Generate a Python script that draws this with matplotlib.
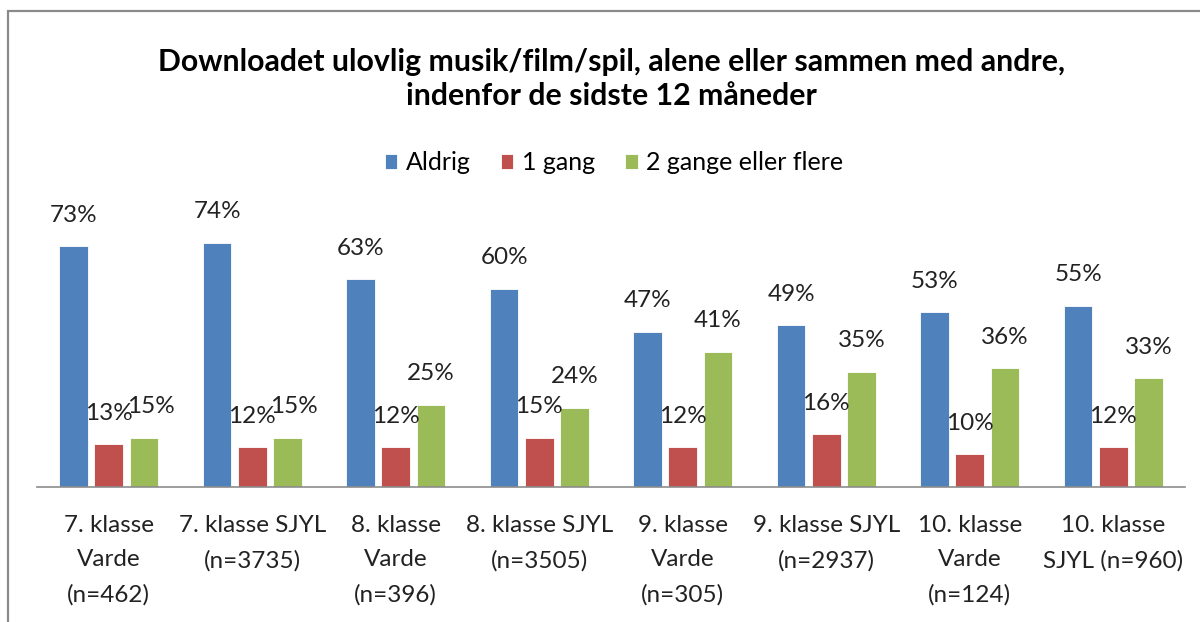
import numpy as np
import matplotlib
matplotlib.use("Agg")
import matplotlib.pyplot as plt
from matplotlib.patches import Rectangle

plt.rcParams['font.family'] = ['Lato', 'DejaVu Sans']

groups = ["7. klasse\nVarde\n(n=462)", "7. klasse SJYL\n(n=3735)",
          "8. klasse\nVarde\n(n=396)", "8. klasse SJYL\n(n=3505)",
          "9. klasse\nVarde\n(n=305)", "9. klasse SJYL\n(n=2937)",
          "10. klasse\nVarde\n(n=124)", "10. klasse\nSJYL (n=960)"]
series = ["Aldrig", "1 gang", "2 gange eller flere"]
aldrig = [73, 74, 63, 60, 47, 49, 53, 55]
en_gang = [13, 12, 12, 15, 12, 16, 10, 12]
flere = [15, 15, 25, 24, 41, 35, 36, 33]
colors = ["#4F81BD", "#C0504D", "#9BBB59"]

title = ("Downloadet ulovlig musik/film/spil, alene eller sammen med andre,\n"
         "indenfor de sidste 12 måneder")

fig = plt.figure(figsize=(12, 6.22), dpi=100)
W, H = 1200, 622
ax = fig.add_axes([37 / W, (H - 487) / H, 1148 / W, 264 / H])

x = np.arange(len(groups))
width = 0.2
step = 0.245
for i, (vals, name, col) in enumerate(zip([aldrig, en_gang, flere], series, colors)):
    bars = ax.bar(x + (i - 1) * step, vals, width, color=col, label=name,
                  edgecolor="white", linewidth=0.6, zorder=2)
    for j, (b, v) in enumerate(zip(bars, vals)):
        # push the green label aside a little when it sits level with the red one
        dx = 7 if (i == 2 and abs(v - en_gang[j]) < 5) else 0
        ax.annotate(f"{v}%", (b.get_x() + b.get_width() / 2, v),
                    xytext=(dx, 31), textcoords="offset pixels",
                    ha="center", va="center", fontsize=17.5, color="#222222",
                    annotation_clip=False)

ax.set_xlim(-0.5, len(groups) - 0.5)
ax.set_ylim(0, 80)
ax.set_yticks([])
ax.set_xticks(x)
ax.set_xticklabels(groups, fontsize=17.5, linespacing=1.8, color="#222222")
ax.tick_params(axis="x", length=0, pad=20)
for s in ["top", "right", "left"]:
    ax.spines[s].set_visible(False)
ax.spines["bottom"].set_color("#8c8c8c")
ax.spines["bottom"].set_linewidth(1.2)

fig.text(611 / W, 1 - 79 / H, title, ha="center", va="center",
         fontsize=21.8, fontweight="bold", linespacing=1.3)

fig.legend(loc="center", bbox_to_anchor=(614 / W, 1 - 163 / H), ncol=3,
           frameon=False, fontsize=18, handlelength=0.5, handleheight=0.5,
           handletextpad=0.35, columnspacing=1.2)

# outer chart frame, running off the right and bottom edges
fig.patches.append(Rectangle((8 / W, -0.1), 1.2, 1 - 11 / H + 0.1,
                             transform=fig.transFigure, fill=False,
                             edgecolor="#8a8a8a", linewidth=1.6))

fig.savefig("out.png", dpi=100, facecolor="white")
